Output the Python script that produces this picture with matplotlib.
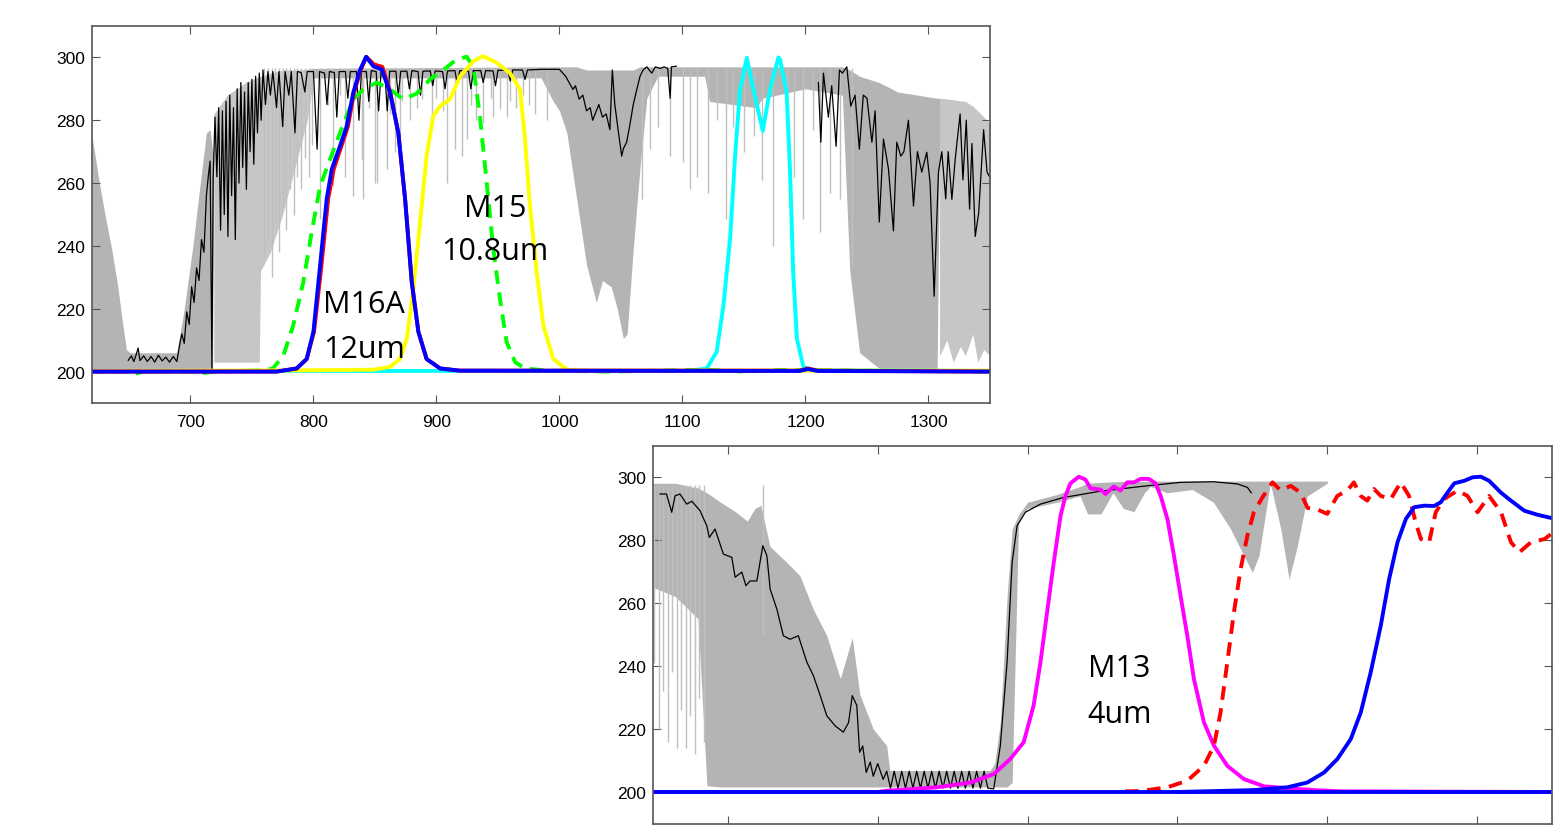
import numpy as np
import matplotlib.pyplot as plt

plt.rcParams["font.family"] = ["Liberation Sans", "DejaVu Sans"]

# ---------------- top panel (LWIR window) ----------------
# gray line-by-line spectrum: dense parts as an envelope, striated parts lighter, plus single lines
gray_top_x = [620, 622, 626, 631, 636, 641, 645, 648, 651, 689, 695, 702, 708, 713, 716, 718,
              719, 790, 800, 985, 995, 1000, 1006, 1014, 1022, 1030, 1035, 1042, 1047, 1052, 1055,
              1060, 1065.5, 1071, 1080, 1118, 1122, 1160, 1165, 1200, 1230, 1236, 1244, 1260,
              1275, 1307, 1309, 1350]
gray_top_lo = [200, 200, 200, 200, 200, 200, 200, 200, 200, 200, 200, 200, 200, 200, 200, 200,
               270, 296, 293.5, 293.5, 286, 283, 276, 255, 234, 222, 229, 227, 220, 210.5, 212,
               239, 265, 287, 294, 294, 286, 284, 287, 290, 288, 232, 206, 201,
               200, 200, 272, 270]
gray_top_hi = [275, 270, 260, 249, 239, 227, 215, 207, 206, 206, 220, 240, 260, 276, 277, 270,
               270, 296, 296.5, 297, 297, 297, 297, 297, 296, 296, 296, 296, 296, 296, 296,
               296, 297, 297, 297, 297, 297, 297, 297, 297, 297, 296, 294, 292,
               289, 287, 287, 279]
light_a_x = [719, 730, 745, 756, 757, 765, 775, 785, 795, 800]
light_a_lo = [203, 203, 203, 203, 232, 238, 250, 265, 280, 293]
light_a_hi = [282, 288, 292, 294, 294, 295, 296, 296, 296, 296]
light_b_x = [1309, 1315, 1320, 1326, 1330, 1336, 1340, 1345, 1350]
light_b_lo = [205, 210, 203, 208, 205, 212, 203, 207, 205]
light_b_hi = [287, 286.8, 286.5, 286.2, 286, 284.5, 283, 281, 279]
GRAY_TOP = 296.5
gline_top_x = [760, 763, 766, 769, 772, 775, 778, 781, 784, 787, 790, 793, 796, 799, 805.4,
               812, 816, 822, 826, 832, 839.3, 840.6, 845, 850, 851.5, 859.6, 862, 866, 870.4,
               872, 878.5, 884, 888, 896, 900, 905, 908.4, 915, 920.6, 924.7, 928, 932, 938,
               944, 946, 951.7, 957, 960, 965, 970, 975, 980, 990, 1067, 1073.7, 1080, 1090,
               1100.7, 1106, 1111.6, 1120.8, 1128, 1135.4, 1141, 1150, 1158, 1165, 1174,
               1184.8, 1191, 1198, 1206, 1212, 1220, 1228, 1237.6]
gline_top_bot = [236, 242, 230, 248, 238, 252, 245, 258, 250, 262, 258, 268, 262, 272, 248.6,
                 285, 259, 288, 262, 256, 267.6, 255, 284, 260, 260, 264.4, 282, 270, 271.8,
                 286, 280, 284, 286.7, 278, 287, 283, 260, 270.8, 268.6, 274, 285, 280, 279,
                 287, 281, 283.5, 281, 286, 284, 288, 285, 282, 280, 255, 270.8, 278, 268.6,
                 266.6, 258, 262, 257, 280, 248.6, 278, 270, 275, 261, 240,
                 279, 262, 248.6, 277, 244.4, 257, 255, 233.6]

# black (instrument-convolved) spectrum, two pieces
black1_x = [649.5, 652, 654, 656, 657.5, 659, 662, 665, 668, 671, 674, 677, 680, 683, 686, 689,
            691, 693, 695, 697, 699, 701, 703, 705, 707, 709, 711, 713, 714.5, 716, 717.5, 718.5,
            720, 721.5, 723, 724.5, 726, 727.5, 729, 730.5, 732, 733.5, 735, 736.5, 738, 739.5,
            741, 742.5, 744, 745.5, 747, 748.5, 750, 751.5, 753, 754.5, 756, 757.5, 759, 761,
            763, 765, 767, 770, 772, 775, 777, 780, 782, 785, 787, 790, 793, 795, 800, 803, 805,
            809, 811, 813, 817, 819, 821, 826, 828, 830, 835, 837, 839, 843, 845, 847, 851, 853,
            855, 858, 860, 862, 867, 869, 871, 876, 878, 880, 885, 887, 889, 895, 897, 899, 905,
            907, 909, 915, 917, 919, 926, 928, 930, 936, 938, 940, 946, 948, 950, 958, 960, 962,
            970, 972, 974, 985, 1000, 1005, 1011, 1013, 1016, 1019, 1022, 1025, 1027, 1030, 1032,
            1035, 1038, 1041, 1043, 1045, 1048, 1050.6, 1052, 1054.6, 1057, 1060, 1063, 1065.5,
            1068, 1071, 1075, 1078, 1082, 1085, 1088, 1090, 1091, 1095]
black1_y = [203.6, 205.0, 203.2, 205.5, 207.5, 203.5, 205.0, 203.2, 204.8, 203.0, 205.2, 203.4,
            204.6, 203.0, 204.8, 203.2, 208, 212, 209, 219, 215, 227, 222, 233, 229, 242, 238,
            256, 262, 267, 200.5, 262, 281, 262, 284, 245, 283, 250, 286, 243, 288, 256, 284,
            242, 290, 260, 292, 265, 289, 258, 292, 270, 293, 266, 294, 276, 295, 280, 296, 285,
            295.5, 288, 295.5, 284, 295.5, 278, 295.5, 288, 295.5, 276, 295.5, 295.2, 289, 295.5,
            295.5, 270.8, 295.5, 295, 285, 295.5, 295.2, 281, 295.5, 295.5, 287, 295.5, 295.5,
            280, 295.5, 295.5, 286, 295.8, 295.5, 283, 295.5, 295.5, 283, 295.6, 295.6, 288,
            295.6, 295.6, 290, 295.8, 295.5, 288, 295.6, 295.7, 291, 295.7, 295.5, 290, 295.7,
            295.8, 291.5, 295.8, 295.6, 290, 295.8, 295.8, 292, 295.8, 295.7, 291, 295.9, 295.9,
            292.5, 296, 296, 293, 296, 296.2, 296.2, 294, 289.8, 291, 286.7, 288, 283, 284, 280,
            283, 285, 281, 282, 277, 296, 285, 276, 268.6, 271, 273, 278, 285, 290, 294, 296,
            297, 295, 297, 296.5, 297, 296.5, 287, 297, 297.2]
black2_x = [1210.5, 1212.5, 1214.6, 1218.6, 1221.3, 1224.9, 1227.6, 1230, 1233.6, 1236.8, 1240.3,
            1243.8, 1247, 1250, 1254, 1256.6, 1260, 1263.4, 1267.5, 1271.5, 1274.2, 1277.5, 1280,
            1283.7, 1287.8, 1291, 1294.5, 1298.6, 1301.3, 1304.6, 1308.1, 1310.8, 1314, 1316,
            1319, 1321.7, 1325.7, 1328, 1330.7, 1333.4, 1335.3, 1338, 1340.8, 1344.8, 1347.6,
            1349.7]
black2_y = [292, 273, 295, 281, 291, 271.7, 296, 295, 297, 284.5, 288, 270.8, 288, 287, 273, 283,
            247.6, 274, 264.4, 244.8, 273, 268.6, 270, 280, 252.7, 270, 263.5, 269.8, 260, 224,
            263.5, 270, 255, 270, 254.8, 267.6, 282, 261, 280, 251.7, 272.6, 243, 250.5, 277,
            263.5, 262]

# spectral response functions (scaled 200..300)
green_x = [620, 650, 656, 662, 700, 712, 720, 760, 767, 775.5, 783.5, 791.8, 798.6, 805.4, 813.5,
           821.6, 832.4, 840.6, 851.5, 862.3, 873, 884, 894.8, 905.6, 916.5, 924.6, 930, 935.4,
           940.9, 946.2, 951.7, 957, 964, 972, 990, 1040, 1120, 1150, 1180, 1350]
green_y = [200, 200, 199.4, 200, 200, 199.6, 200, 200.4, 201, 205, 214.6, 228.5, 244.4, 259,
           267.6, 276, 286.7, 289.8, 292, 289.8, 286.7, 288.5, 293, 296, 299.4, 300.2, 297, 281,
           260, 239, 223, 209.5, 203, 201, 200.3, 200, 200.6, 200, 200.5, 200]
yellow_x = [620, 790, 848.5, 862.3, 870.4, 875.9, 881.2, 886.7, 892, 897.5, 903, 911, 919.2, 930,
            938, 949, 959.8, 968, 972, 976, 981.5, 986.9, 995, 1006, 1022, 1350]
yellow_y = [200.2, 200.4, 200.6, 201.5, 204, 210.5, 226, 247.6, 268.7, 281.4, 284.5, 286.7, 294,
            298.8, 300.4, 298.3, 295, 289.8, 274, 252.8, 231.7, 214.7, 204, 200.6, 200.3, 200.3]
cyan_x = [620, 1105, 1119.7, 1127.8, 1133.3, 1138.7, 1142.8, 1146.8, 1152.3, 1157.6, 1165.3,
          1171.2, 1178, 1179.3, 1184.7, 1187.5, 1190, 1193, 1198.3, 1206, 1350]
cyan_y = [200.2, 200.2, 201, 206.3, 221, 242.2, 268.7, 289.8, 299.9, 289.8, 276.6, 289.8, 300,
          299.4, 288.8, 263.5, 231.7, 210.5, 201.5, 200.4, 200.2]
red_x = [620, 770, 786.4, 794.5, 800.5, 806.5, 812, 816.5, 822.5, 828, 833, 838.5, 843, 849,
         856, 862.5, 869, 874.5, 880, 885.3, 892, 903, 919, 1195, 1202, 1210, 1350]
red_y = [200, 200, 201, 204, 212.7, 233.7, 255, 264.4, 271.5, 278, 288.8, 296, 300.2, 297.8,
         297, 288.8, 276, 255, 228.5, 212.7, 204, 201, 200.3, 200.3, 201, 200.3, 200]
blue_x = [620, 770, 786.4, 794.5, 800, 805.4, 810.8, 814.9, 821.6, 827, 832.4, 837.9, 842.8,
          848.7, 855.5, 862.3, 869, 874.5, 879.9, 885.3, 892, 903, 919, 1195, 1202, 1210, 1350]
blue_y = [200, 200, 201, 204, 212.7, 233.7, 255, 264.4, 271.8, 278, 288.8, 296, 300.2, 297.2,
          296.2, 288.8, 276, 255, 228.5, 212.7, 204, 201, 200.3, 200.2, 200.8, 200.2, 200]

# ---------------- bottom panel (MWIR window) ----------------
gray_bot_x = [2150, 2165, 2180, 2186, 2195, 2205, 2213, 2218, 2222, 2228, 2239, 2248, 2257, 2266,
              2275, 2283, 2288, 2297, 2306, 2308, 2375, 2378, 2381.8, 2386.3, 2389.7, 2394, 2400,
              2420, 2435, 2440, 2449, 2457, 2464, 2471, 2478, 2482, 2493, 2510, 2524, 2535.5,
              2544.4, 2550, 2554.4, 2562, 2569, 2574.5, 2580, 2586.7, 2600]
gray_bot_lo = [265, 262, 255, 202, 201.6, 201.6, 201.6, 201.6, 201.6, 201.6, 201.6, 201.6, 201.6,
               201.6, 201.6, 201.6, 201.6, 201.6, 201.6, 201.6, 201.6, 201.6, 201.6, 201.6, 203,
               286, 290, 292, 294, 288.3, 288.3, 295, 290, 289, 295, 297, 295, 296, 292, 283.5,
               275, 269.7, 275, 298, 283.5, 267.6, 278, 294, 298]
gray_bot_hi = [298, 298, 296.5, 295, 292, 289, 286, 290, 291, 278, 273, 268.7, 258, 249.6, 236,
               249, 231, 220, 214.7, 206.8, 206.8, 209, 222, 262, 283.5, 288, 292, 294.5, 297,
               298, 298.3, 298.5, 298.6, 298.6, 298.6, 298.7, 298.7, 298.7, 298.7, 298.7, 298.7,
               298.7, 298.7, 298.7, 298.7, 298.7, 298.7, 298.7, 298.7]
GRAY_TOP_BOT = 297.5
gline_bot_x = [2151, 2154, 2157, 2160, 2163, 2166, 2169, 2172, 2175, 2178, 2181, 2184, 2223.5]
gline_bot_bot = [241, 220, 232, 216, 238, 214, 226, 214, 224, 212, 230, 216, 250]

blackb_x = [2154.7, 2159, 2162.5, 2164.7, 2168, 2172.5, 2175.9, 2181.4, 2185.9, 2187.6, 2191.4,
            2197, 2202.6, 2204.8, 2209.3, 2212, 2214.8, 2219.3, 2223.3, 2226, 2228.2, 2232.7,
            2237, 2241.5, 2247, 2252.7, 2257, 2261.6, 2266, 2271.6, 2277, 2280.5, 2283, 2286,
            2287.9, 2290, 2292.3, 2295, 2297, 2300, 2303.6, 2306, 2308.5, 2311, 2313.5, 2316,
            2318.5, 2321, 2323.5, 2326, 2328.5, 2331, 2333.5, 2336, 2338.5, 2341, 2343.5, 2346,
            2348.5, 2351, 2353.5, 2356, 2358.5, 2361, 2363.5, 2366, 2368.5, 2371, 2373.5, 2377.4,
            2381.8, 2386.3, 2389.7, 2393, 2398.5, 2408.6, 2424, 2448.7, 2479.7, 2502, 2524, 2540,
            2546.7, 2549.3]
blackb_y = [294.6, 294.6, 288.8, 294, 294.6, 291.4, 292.3, 289.3, 284.5, 280.8, 283.5, 275.5,
            274.5, 268.2, 269.8, 265.5, 267, 267, 278.2, 275, 264.4, 258, 249.6, 248.5, 249.6,
            241.2, 237, 230.6, 224.2, 221, 219, 222, 230.6, 227.5, 212.6, 214.6, 206.2, 209.5,
            205, 209, 204, 206.6, 201.2, 206.6, 201.2, 206.6, 201.2, 206.6, 201.2, 206.6, 201.2,
            206.6, 201.2, 206.6, 201.2, 206.6, 201.2, 206.6, 201.2, 206.6, 201.2, 206.6, 201.2,
            206.6, 201.2, 206.6, 201.2, 206.6, 201.2, 201, 214.7, 241, 273, 284.5, 288.8, 291.4,
            293.5, 295.5, 297.2, 298.3, 298.5, 297.8, 296.7, 295]

magenta_x = [2150, 2300, 2306, 2339.5, 2361.8, 2377.4, 2388.5, 2397.4, 2404, 2408.6, 2413, 2417.5,
             2422, 2425.3, 2428.6, 2434.2, 2438.6, 2442, 2448.7, 2452, 2457.5, 2462, 2466.5, 2471,
             2475.4, 2481, 2485.4, 2488.8, 2493.3, 2497.7, 2502.1, 2506.6, 2511, 2517.7, 2524.4,
             2533.3, 2544.4, 2557.8, 2573.4, 2591.2, 2610, 2750]
magenta_y = [200, 200, 200.4, 201.5, 203, 205.7, 210.5, 215.8, 227.4, 241.2, 257, 273, 287.7, 294,
             298, 300.1, 299.2, 296.4, 296, 294.6, 297, 295.7, 298.3, 298.3, 299.4, 299.4, 298,
             294, 286.7, 275, 262.3, 249.6, 235.9, 222.1, 214.7, 208.3, 204.1, 201.8, 201.2, 200.6,
             200.2, 200]
redd_x = [2465, 2475.4, 2493.3, 2506.6, 2517.7, 2524.4, 2528.8, 2533.3, 2537.7, 2542.2, 2546.7,
          2551, 2556.7, 2563.4, 2569, 2575.6, 2582.3, 2586.8, 2593.4, 2600, 2606.7, 2613.4, 2617.8,
          2622.3, 2626.7, 2631.2, 2635.7, 2642.4, 2649, 2654.6, 2659, 2662.5, 2668, 2672.4, 2678,
          2687, 2693.6, 2700.3, 2708, 2716, 2722.6, 2728.2, 2736, 2745, 2749.4]
redd_y = [200.2, 200.3, 201.5, 203.6, 208.3, 214.7, 225.3, 241.2, 257, 270.8, 281.4, 288.8, 293.5,
          298.3, 295.7, 297.2, 295, 290.2, 289.7, 288.3, 294, 295.7, 298.3, 294, 292.5, 296.2, 294,
          293, 298.3, 294, 285.6, 280.3, 279.3, 288.8, 293, 295.7, 294, 288.8, 294, 288.8, 279.3,
          276.1, 279.3, 280.3, 281.9]
blueb_x = [2500, 2551, 2573.4, 2586.7, 2597.9, 2606.8, 2615.7, 2622.4, 2629, 2635.7, 2641.3,
           2646.9, 2652.5, 2658, 2664.7, 2671.4, 2675.8, 2680.3, 2684.8, 2691.5, 2697, 2702.5, 2708,
           2716, 2722.6, 2731.5, 2740.4, 2749.4]
blueb_y = [200, 200.6, 201.5, 203, 206.2, 210.5, 216.8, 225.3, 238, 252.8, 267.6, 279.3, 286.7,
           290.4, 290.9, 290.8, 292, 295.1, 298, 298.8, 299.9, 300.1, 298.8, 295, 292.5, 289.3,
           288, 287]
base_x = [2150, 2750]
base_y = [200, 200]

labels_top = [("M16A", 841.0, 219.0), ("12um", 841.0, 204.8),
              ("M15", 947.6, 249.6), ("10.8um", 947.6, 235.9)]
labels_bot = [("M13", 2440.0, 236.9), ("4um", 2440.0, 222.3)]

yticks = [200, 220, 240, 260, 280, 300]
xticks_top = [700, 800, 900, 1000, 1100, 1200, 1300]
xticks_bot = [2200, 2300, 2400, 2500, 2600, 2700]

GRAY = "#b4b4b4"
GRAY_LIGHT = "#c6c6c6"
GRAY_LINE = "#bfbfbf"
LW = 2.8
DASH = (0, (3.5, 2.2))

fig = plt.figure(figsize=(15.62, 8.29), dpi=100)
ax1 = fig.add_axes([92 / 1562, 1 - 404 / 829, 898 / 1562, 377 / 829])
ax2 = fig.add_axes([653 / 1562, 1 - 824.5 / 829, 899 / 1562, 378 / 829])

# top panel
ax1.fill_between(gray_top_x, gray_top_lo, gray_top_hi, color=GRAY, lw=0)
ax1.fill_between(light_a_x, light_a_lo, light_a_hi, color=GRAY_LIGHT, lw=0)
ax1.fill_between(light_b_x, light_b_lo, light_b_hi, color=GRAY_LIGHT, lw=0)
ax1.vlines(gline_top_x, gline_top_bot, GRAY_TOP, color=GRAY_LINE, lw=1.0)
ax1.plot(black1_x, black1_y, color="k", lw=0.9)
ax1.plot(black2_x, black2_y, color="k", lw=0.9)
ax1.plot(cyan_x, cyan_y, color="#00ffff", lw=LW)
ax1.plot(green_x, green_y, color="#00ff00", lw=LW, ls=DASH)
ax1.plot(yellow_x, yellow_y, color="#ffff00", lw=LW)
ax1.plot(red_x, red_y, color="#ff0000", lw=LW)
ax1.plot(blue_x, blue_y, color="#0000ff", lw=LW)
for txt, x, y in labels_top:
    ax1.text(x, y, txt, ha="center", va="baseline", fontsize=22, family=["Open Sans", "DejaVu Sans"])
ax1.set_xlim(620, 1350)
ax1.set_xticks(xticks_top)

# bottom panel
ax2.fill_between(gray_bot_x, gray_bot_lo, gray_bot_hi, color=GRAY, lw=0)
ax2.vlines(gline_bot_x, gline_bot_bot, GRAY_TOP_BOT, color=GRAY_LINE, lw=1.0)
ax2.plot(blackb_x, blackb_y, color="k", lw=0.9)
ax2.plot(magenta_x, magenta_y, color="#ff00ff", lw=LW)
ax2.plot(redd_x, redd_y, color="#ff0000", lw=LW, ls=DASH)
ax2.plot(base_x, base_y, color="#0000ff", lw=LW)
ax2.plot(blueb_x, blueb_y, color="#0000ff", lw=LW)
for txt, x, y in labels_bot:
    ax2.text(x, y, txt, ha="left", va="baseline", fontsize=22, family=["Open Sans", "DejaVu Sans"])
ax2.set_xlim(2150, 2750)
ax2.set_xticks(xticks_bot)
ax2.set_xticklabels([])

for ax in (ax1, ax2):
    ax.set_ylim(190, 310)
    ax.set_yticks(yticks)
    ax.tick_params(direction="in", length=6, width=0.8, top=True, right=True,
                   labelsize=12.5, color="#555555", pad=5)
    ax.tick_params(axis="x", pad=8)
    for s in ax.spines.values():
        s.set_color("#555555")
        s.set_linewidth(1.2)

fig.savefig("out.png", dpi=100)
